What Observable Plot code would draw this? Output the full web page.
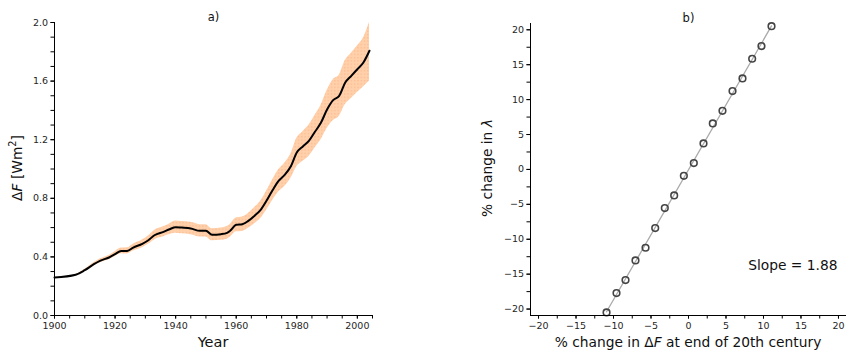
<!DOCTYPE html>
<html>
<head>
<meta charset="utf-8">
<script src="https://cdn.jsdelivr.net/npm/d3@7"></script>
<script src="https://cdn.jsdelivr.net/npm/@observablehq/plot@0.6"></script>
<style>
  body { margin: 0; background: #fff; }
  #wrap { display: flex; width: 846px; height: 354px; overflow: hidden; font-family: "DejaVu Sans", sans-serif; }
  svg { overflow: visible; }
</style>
</head>
<body>
<div id="wrap"></div>
<script>
// ---- Panel a) : forcing time series ----
const years   = [1900,1907,1910,1913,1915,1918,1920,1922,1924,1926,1929,1931,1933,1936,1938,1940,1942,1945,1948,1950,1952,1955,1957,1958,1960,1962,1964,1966,1968,1970,1972,1974,1976,1978,1980,1982,1984,1986,1988,1990,1992,1994,1996,1998,2000,2002,2004];
const forcing = [0.259,0.278,0.309,0.350,0.373,0.396,0.419,0.441,0.441,0.464,0.489,0.514,0.548,0.571,0.589,0.603,0.600,0.594,0.578,0.578,0.551,0.555,0.564,0.578,0.619,0.623,0.646,0.680,0.719,0.783,0.855,0.919,0.960,1.017,1.113,1.154,1.192,1.254,1.317,1.406,1.470,1.499,1.590,1.636,1.681,1.727,1.807];
const upper   = [0.259,0.280,0.315,0.360,0.385,0.410,0.435,0.460,0.462,0.487,0.515,0.542,0.580,0.605,0.625,0.645,0.642,0.636,0.620,0.620,0.593,0.597,0.607,0.622,0.666,0.672,0.697,0.735,0.778,0.848,0.925,0.995,1.040,1.100,1.210,1.255,1.298,1.365,1.435,1.535,1.610,1.640,1.740,1.790,1.840,1.895,2.000];
const lower   = [0.259,0.276,0.303,0.340,0.360,0.380,0.403,0.422,0.420,0.440,0.463,0.486,0.516,0.537,0.553,0.562,0.558,0.552,0.536,0.536,0.510,0.513,0.521,0.534,0.572,0.574,0.595,0.625,0.660,0.718,0.785,0.843,0.880,0.935,1.016,1.053,1.086,1.143,1.200,1.277,1.330,1.358,1.440,1.482,1.522,1.560,1.600];
const yearTicks  = [1900,1920,1940,1960,1980,2000];
const forceTicks = [0.0,0.4,0.8,1.2,1.6,2.0];

// ---- Panel b) : sensitivity ----
const dF     = [-10.93,-9.60,-8.40,-7.07,-5.73,-4.44,-3.16,-1.91,-0.62,0.71,2.00,3.24,4.53,5.87,7.20,8.49,9.73,11.07];
const dLamba = [-20.48,-17.71,-15.85,-13.03,-11.22,-8.40,-5.54,-3.72,-0.91,0.91,3.72,6.59,8.40,11.22,13.03,15.85,17.66,20.52];
const pctTicks = [-20,-15,-10,-5,0,5,10,15,20];
const slopeLabel = "Slope = 1.88";

const fontFamily = "DejaVu Sans, sans-serif";
const minus = d => d < 0 ? "\u2212" + (-d) : String(d);
const range = (a, b, s) => d3.range(a, b + s / 2, s);

const seriesA = years.map((y, i) => ({year: y, f: forcing[i], hi: upper[i], lo: lower[i]}));
const seriesB = dF.map((x, i) => ({x, y: dLamba[i]}));

const axisStyle = {tickSize: 3.5, tickPadding: 3, fontSize: 9.5, color: "#262626", stroke: "#000"};

const plotA = Plot.plot({
  width: 420, height: 354,
  marginLeft: 54, marginRight: 48, marginTop: 22, marginBottom: 39,
  style: {fontFamily, background: "transparent"},
  x: {domain: [1900, 2005], label: null},
  y: {domain: [0, 2], label: null},
  marks: [
    Plot.areaY(seriesA, {x: "year", y1: "lo", y2: "hi", fill: "url(#dotsA)", curve: "monotone-x"}),
    Plot.lineY(seriesA, {x: "year", y: "f", stroke: "#000", strokeWidth: 2, curve: "monotone-x"}),
    Plot.frame({anchor: "left", stroke: "#000"}),
    Plot.frame({anchor: "bottom", stroke: "#000"}),
    Plot.axisX(yearTicks, {...axisStyle, tickFormat: d => String(d)}),
    Plot.axisX(range(1900, 2005, 5), {tickSize: 3.5, tickFormat: () => ""}),
    Plot.axisY(forceTicks, {...axisStyle, tickFormat: d3.format(".1f")}),
    Plot.axisY(range(0, 2, 0.1), {tickSize: 3.5, tickFormat: () => ""}),
    Plot.text(["a)"], {frameAnchor: "top", dy: -10, fontSize: 11.5, fill: "#111"})
  ]
});

const plotB = Plot.plot({
  width: 426, height: 354,
  marginLeft: 110, marginRight: 0, marginTop: 23, marginBottom: 39,
  style: {fontFamily, background: "transparent"},
  x: {domain: [-21.07, 21.07], label: null},
  y: {domain: [-20.92, 20.9], label: null},
  marks: [
    Plot.linearRegressionY(seriesB, {x: "x", y: "y", stroke: "#aaaaaa", strokeWidth: 1.3, ci: 0}),
    Plot.dot(seriesB, {x: "x", y: "y", r: 3.3, stroke: "#444", strokeWidth: 1.6, fill: "none"}),
    Plot.frame({anchor: "left", stroke: "#000"}),
    Plot.frame({anchor: "bottom", stroke: "#000"}),
    Plot.axisX(pctTicks, {...axisStyle, tickFormat: minus}),
    Plot.axisX(range(-20, 20, 2.5), {tickSize: 3.5, tickFormat: () => ""}),
    Plot.axisY(pctTicks, {...axisStyle, tickFormat: minus}),
    Plot.axisY(range(-20, 20, 2.5), {tickSize: 3.5, tickFormat: () => ""}),
    Plot.text(["b)"], {frameAnchor: "top", dy: -10, fontSize: 11.5, fill: "#111"}),
    Plot.text([slopeLabel], {frameAnchor: "bottom-right", dx: -9, dy: -46, textAnchor: "end", fontSize: 13.8, fill: "#111"})
  ]
});

// dotted hatch pattern for the uncertainty band
const sa = d3.select(plotA);
const defs = sa.insert("defs", ":first-child");
const pat = defs.append("pattern").attr("id", "dotsA").attr("patternUnits", "userSpaceOnUse")
  .attr("width", 3.3).attr("height", 3.3);
pat.append("rect").attr("width", 3.3).attr("height", 3.3).attr("fill", "#ffd0aa");
pat.append("rect").attr("x", 1).attr("y", 1).attr("width", 1.1).attr("height", 1.1).attr("fill", "#fbb48a");

// axis labels with mixed styles
function label(svg, x, y, rot, parts, size = 13.8) {
  const t = d3.select(svg).append("text")
    .attr("transform", `translate(${x},${y})` + (rot ? ` rotate(${rot})` : ""))
    .attr("text-anchor", "middle").attr("font-size", size)
    .attr("font-family", fontFamily).attr("fill", "#111");
  for (const p of parts) {
    const s = t.append("tspan").text(p.t);
    if (p.i) s.attr("font-style", "italic");
    if (p.sup) s.attr("font-size", size * 0.7).attr("dy", -6);
    if (p.down) s.attr("dy", 6);
  }
}
label(plotA, 213, 347, 0, [{t: "Year"}], 14.5);
label(plotA, 22, 168, -90, [{t: "\u0394"}, {t: "F", i: true}, {t: " [Wm"}, {t: "2", sup: true}, {t: "]", down: true}]);
label(plotB, 268, 347, 0, [{t: "% change in \u0394"}, {t: "F", i: true}, {t: " at end of 20th century"}]);
label(plotB, 72, 168, -90, [{t: "% change in "}, {t: "\u03bb", i: true}]);

document.getElementById("wrap").append(plotA, plotB);
</script>
</body>
</html>
